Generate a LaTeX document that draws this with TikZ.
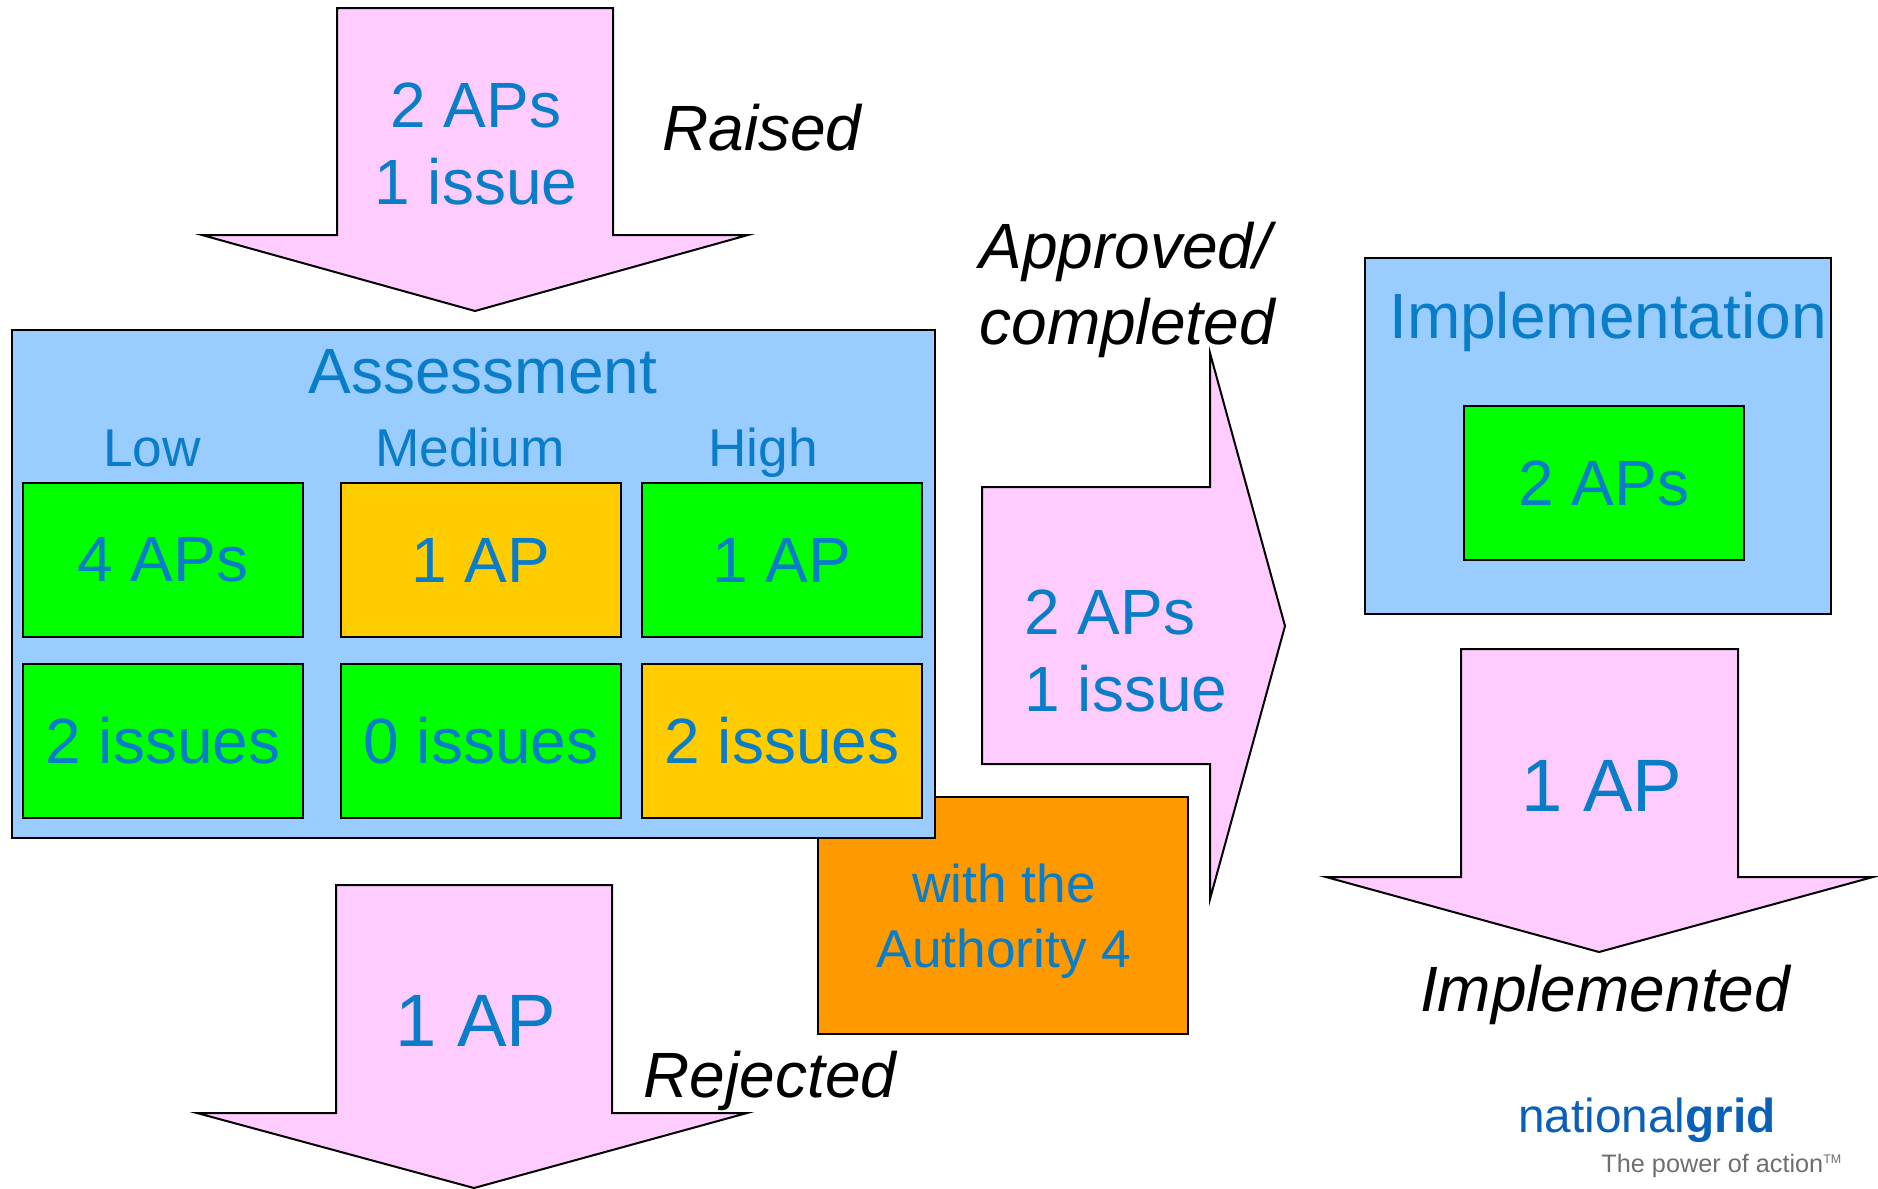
\documentclass[tikz,border=0pt]{standalone}
\usepackage{fontspec}
\setmainfont{Liberation Sans}
\definecolor{apblue}{RGB}{10,125,200}
\definecolor{pinkfill}{RGB}{255,204,255}
\definecolor{skyfill}{RGB}{153,204,255}
\definecolor{greenfill}{RGB}{0,255,0}
\definecolor{amberfill}{RGB}{255,204,0}
\definecolor{orangefill}{RGB}{255,153,0}
\definecolor{logoblue}{RGB}{10,95,185}
\definecolor{logogrey}{RGB}{110,110,110}
\tikzset{
  bigtext/.style={text=apblue,align=center,inner sep=0pt,font=\fontsize{25.6}{30.7}\selectfont},
  midtext/.style={text=apblue,align=center,inner sep=0pt,font=\fontsize{21.3}{25.9}\selectfont},
  hugetext/.style={text=apblue,inner sep=0pt,font=\fontsize{29.7}{36}\selectfont},
  caption/.style={text=black,align=left,inner sep=0pt,font=\fontsize{25.6}{30.7}\selectfont\itshape},
  cell/.style={draw=black,line width=.8pt,bigtext,minimum width=111.8pt,minimum height=61.6pt},
  arrowshape/.style={draw=black,line width=.8pt,fill=pinkfill,line join=miter},
  panel/.style={draw=black,line width=.8pt,fill=skyfill},
}
\begin{document}
\begin{tikzpicture}[x=.4pt,y=-.4pt]
\useasboundingbox (0,0) rectangle (1878,1188);
% arrows
\draw[arrowshape](337,8)--(613,8)--(613,235)--(748,235)--(475,311)--(202,235)--(337,235)--cycle;
\draw[arrowshape](336,885)--(612,885)--(612,1113)--(747,1113)--(474,1188)--(197,1113)--(336,1113)--cycle;
\draw[arrowshape](1461,649)--(1738,649)--(1738,877)--(1873,877)--(1599,952)--(1326,877)--(1461,877)--cycle;
\draw[arrowshape](982,487)--(1210,487)--(1210,353)--(1285,626)--(1210,899)--(1210,764)--(982,764)--cycle;
% orange box sits under the assessment panel
\draw[draw=black,line width=.8pt,fill=orangefill](818,797)rectangle(1188,1034);
\node[midtext](authority)at(1004,921){with the\\Authority 4};
% assessment
\draw[panel](12,330)rectangle(935,838);
\node[bigtext](assessment)at(483,372){Assessment};
\node[midtext,anchor=base](low)at(152,466){Low};
\node[midtext,anchor=base](medium)at(470,466){Medium};
\node[midtext,anchor=base](high)at(763,466){High};
\node[cell,fill=greenfill](lowap)at(163,560){4 APs};
\node[cell,fill=amberfill](medap)at(481,560){1 AP};
\node[cell,fill=greenfill](highap)at(782,560){1 AP};
\node[cell,fill=greenfill](lowissue)at(163,741){2 issues};
\node[cell,fill=greenfill](medissue)at(481,741){0 issues};
\node[cell,fill=amberfill](highissue)at(782,741){2 issues};
% implementation
\draw[panel](1365,258)rectangle(1831,614);
\node[bigtext](implementation)at(1608,322){Implementation};
\node[cell,fill=greenfill](implap)at(1604,483){2 APs};
% text on the arrows
\node[bigtext](raisedcount)at(476,144){2 APs\\1 issue};
\node[bigtext,align=left,anchor=west](approvedcount)at(1024,651){2 APs\\1 issue};
\node[hugetext](implcount)at(1602,786){1 AP};
\node[hugetext](rejectcount)at(476,1021){1 AP};
% captions
\node[caption](raised)at(762,128){Raised};
\node[caption,anchor=west](approved)at(979,290){Approved/\\completed};
\node[caption](rejected)at(770,1081){Rejected};
\node[caption](implemented)at(1605,995){Implemented};
% logo
\node[text=logoblue,inner sep=0pt,font=\fontsize{19.1}{22}\selectfont](logoname)at(1647,1120){national\textbf{grid}};
\node[text=logogrey,inner sep=0pt,font=\fontsize{10.1}{12}\selectfont](logoline)at(1722,1166){The power of action\textsuperscript{\tiny TM}};
\end{tikzpicture}
\end{document}
